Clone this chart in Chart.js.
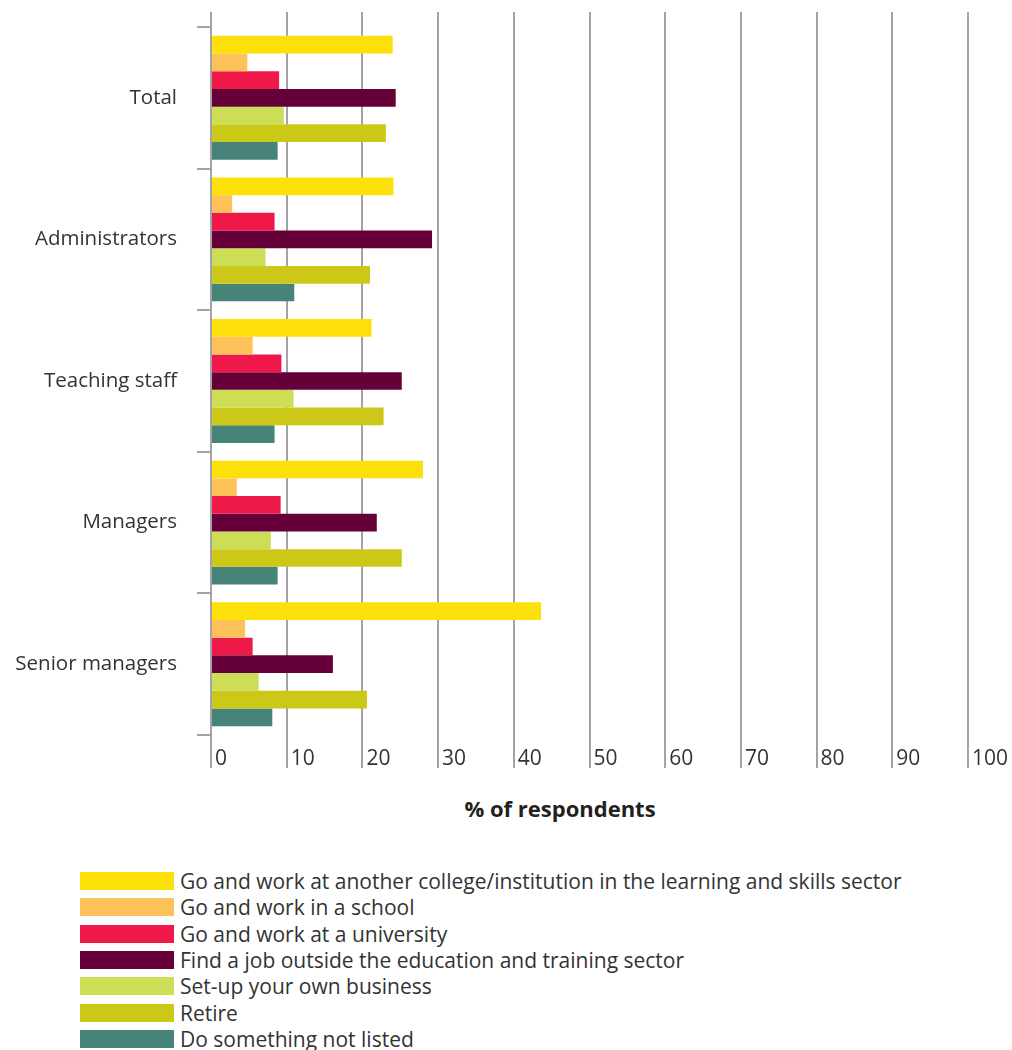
<!DOCTYPE html>
<html>
<head>
<meta charset="utf-8">
<script src="https://cdn.jsdelivr.net/npm/chart.js@4.4.1/dist/chart.umd.min.js"></script>
<style>
  html, body { margin: 0; padding: 0; background: #fff; }
  #wrap { position: relative; width: 1012px; height: 1050px; overflow: hidden; font-family: "Open Sans", sans-serif; color: #333; }
  #chart { position: absolute; left: 0; top: 0; }
  #axis-title { position: absolute; top: 793px; left: 410px; width: 300px; text-align: center; font-weight: 700; font-size: 22px; color: #231f20; }
  #legend { position: absolute; left: 80px; top: 868px; margin: 0; padding: 0; list-style: none; }
  #legend li { display: flex; align-items: center; height: 26.3px; font-size: 21px; white-space: nowrap; }
  #legend span.box { display: inline-block; width: 94px; height: 18px; margin-right: 6px; }
</style>
</head>
<body>
<div id="wrap">
  <canvas id="chart" width="1012" height="780"></canvas>
  <div id="axis-title">% of respondents</div>
  <ul id="legend"></ul>
</div>
<script>
// respondent groups, top to bottom
var groups = ['Total', 'Administrators', 'Teaching staff', 'Managers', 'Senior managers'];

// what respondents would do next (% of respondents, per group)
var anotherCollege = [24.0, 24.1, 21.2, 28.0, 43.6];
var school         = [4.8, 2.8, 5.5, 3.4, 4.5];
var university     = [9.0, 8.4, 9.3, 9.2, 5.5];
var outsideSector  = [24.4, 29.2, 25.2, 21.9, 16.1];
var ownBusiness    = [9.6, 7.2, 10.9, 7.9, 6.3];
var retire         = [23.1, 21.0, 22.8, 25.2, 20.6];
var notListed      = [8.8, 11.0, 8.4, 8.8, 8.1];

var seriesNames = [
  'Go and work at another college/institution in the learning and skills sector',
  'Go and work in a school',
  'Go and work at a university',
  'Find a job outside the education and training sector',
  'Set-up your own business',
  'Retire',
  'Do something not listed'
];
var seriesValues = [anotherCollege, school, university, outsideSector, ownBusiness, retire, notListed];
var seriesColors = ['#fde00a', '#fdc159', '#ee1849', '#660038', '#cddd55', '#ccc817', '#46847a'];

var gridGrey = '#a3a3a7';
var textGrey = '#333333';

var datasets = seriesNames.map(function (name, i) {
  return {
    label: name,
    data: seriesValues[i],
    backgroundColor: seriesColors[i],
    borderWidth: 0,
    categoryPercentage: 0.875,
    barPercentage: 1
  };
});

// legend as a plain list, one entry per row
var htmlLegend = {
  id: 'htmlLegend',
  afterUpdate: function (chart) {
    var ul = document.getElementById('legend');
    ul.innerHTML = '';
    var items = chart.options.plugins.legend.labels.generateLabels(chart);
    items.forEach(function (item) {
      var li = document.createElement('li');
      var box = document.createElement('span');
      box.className = 'box';
      box.style.background = item.fillStyle;
      li.appendChild(box);
      li.appendChild(document.createTextNode(item.text));
      ul.appendChild(li);
    });
  }
};

new Chart(document.getElementById('chart'), {
  type: 'bar',
  data: { labels: groups, datasets: datasets },
  plugins: [htmlLegend],
  options: {
    indexAxis: 'y',
    responsive: false,
    animation: false,
    devicePixelRatio: 1,
    layout: { padding: { top: 12, left: 13, right: 44, bottom: 0 } },
    plugins: {
      legend: { display: false },
      tooltip: { enabled: false }
    },
    scales: {
      x: {
        position: 'bottom',
        min: 0,
        max: 100,
        border: { display: false },
        grid: { color: gridGrey, lineWidth: 2, tickLength: 33 },
        ticks: {
          stepSize: 10,
          align: 'start',
          labelOffset: 4,
          padding: -22,
          color: textGrey,
          font: { family: 'Open Sans', size: 21 }
        },
        afterFit: function (scale) { scale.height = 45; }
      },
      xTop: {
        axis: 'x',
        position: 'top',
        min: 0,
        max: 100,
        border: { display: false },
        grid: { color: gridGrey, lineWidth: 2, tickLength: 15, drawOnChartArea: false },
        ticks: { stepSize: 10, display: false }
      },
      y: {
        border: { display: true, color: gridGrey, width: 2 },
        grid: { color: gridGrey, lineWidth: 2, tickLength: 14, drawOnChartArea: false },
        ticks: {
          padding: 20,
          color: textGrey,
          font: { family: 'Open Sans', size: 20.5 }
        },
        afterFit: function (scale) {
          scale.width = 198;
          // labels sit mid-category, so no extra room is needed above or below
          scale.paddingTop = 0;
          scale.paddingBottom = 0;
        }
      }
    }
  }
});
</script>
</body>
</html>
